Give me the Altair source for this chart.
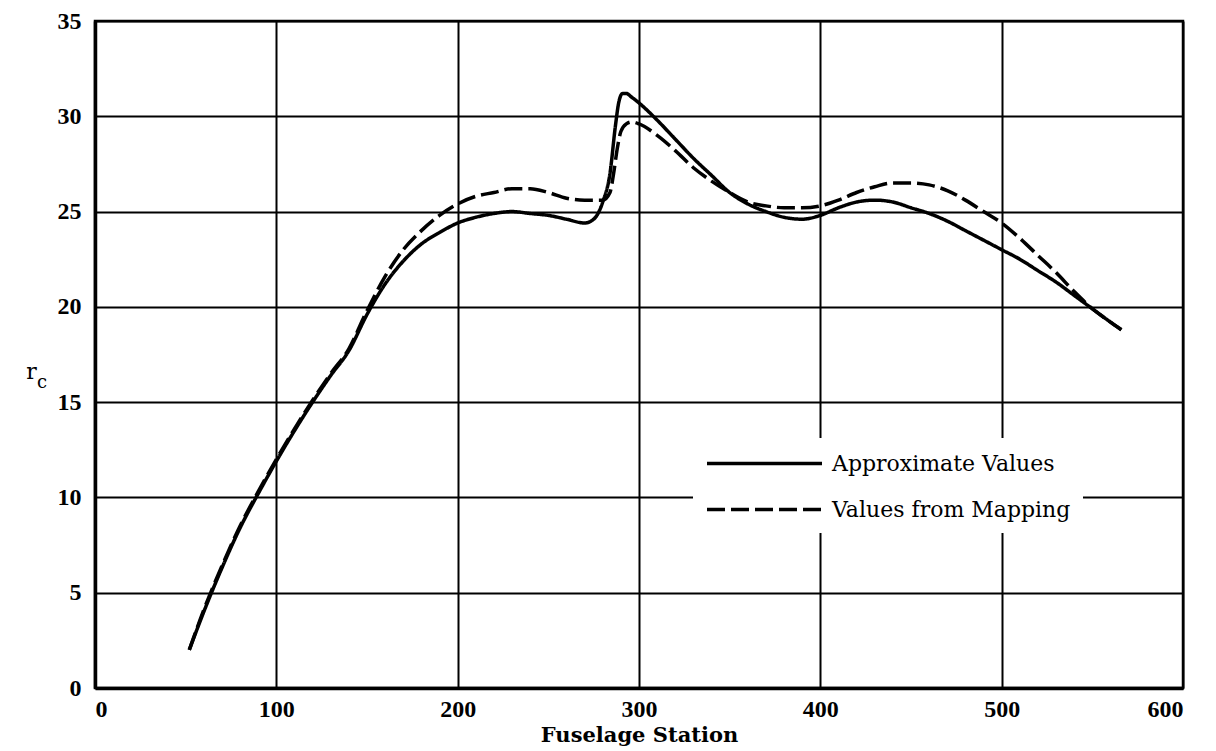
import altair as alt
import pandas as pd

# Approximate Values (solid)
approx_x = [52, 60, 70, 80, 90, 100, 110, 120, 130, 140, 150, 160, 170, 180, 190, 200, 210, 220, 230, 240,
            250, 260, 270, 275, 280, 284, 287, 289, 291, 293, 296, 300, 310, 320, 330, 340, 350, 360, 370,
            380, 390, 400, 410, 420, 430, 440, 450, 460, 470, 480, 490, 500, 510, 520, 530, 540, 550, 560, 566]
approx_y = [2.0, 4.0, 6.3, 8.4, 10.2, 11.9, 13.5, 15.0, 16.4, 17.7, 19.6, 21.2, 22.4, 23.3, 23.9, 24.4, 24.7,
            24.9, 25.0, 24.9, 24.8, 24.6, 24.4, 24.6, 25.5, 27.0, 29.5, 30.8, 31.2, 31.2, 31.0, 30.7, 29.8,
            28.8, 27.8, 26.9, 26.0, 25.4, 25.0, 24.7, 24.6, 24.8, 25.2, 25.5, 25.6, 25.5, 25.2, 24.9, 24.5,
            24.0, 23.5, 23.0, 22.5, 21.9, 21.3, 20.6, 19.9, 19.2, 18.8]

# Values from Mapping (dashed)
map_x = [52, 60, 70, 80, 90, 100, 110, 120, 130, 140, 150, 160, 170, 180, 190, 200, 210, 220, 230, 240, 250,
         260, 270, 280, 284, 286, 288, 290, 293, 296, 300, 310, 320, 330, 340, 350, 360, 370, 380, 390, 400,
         410, 420, 430, 440, 450, 460, 470, 480, 490, 500, 510, 520, 530, 540, 550, 560, 566]
map_y = [2.0, 4.1, 6.4, 8.5, 10.3, 12.0, 13.6, 15.1, 16.5, 17.8, 19.8, 21.6, 23.0, 24.0, 24.8, 25.4, 25.8,
         26.0, 26.2, 26.2, 26.0, 25.7, 25.6, 25.6, 26.0, 27.0, 28.3, 29.2, 29.6, 29.7, 29.6, 29.0, 28.2,
         27.3, 26.6, 26.0, 25.5, 25.3, 25.2, 25.2, 25.3, 25.6, 26.0, 26.3, 26.5, 26.5, 26.4, 26.1, 25.6,
         25.0, 24.4, 23.6, 22.7, 21.8, 20.8, 19.9, 19.2, 18.8]

series_names = ["Approximate Values", "Values from Mapping"]
x_ticks = [0, 100, 200, 300, 400, 500, 600]
y_ticks = [0, 5, 10, 15, 20, 25, 30, 35]

df = pd.concat([
    pd.DataFrame({"x": approx_x, "y": approx_y, "series": series_names[0]}),
    pd.DataFrame({"x": map_x, "y": map_y, "series": series_names[1]}),
])

lines = alt.Chart(df).mark_line(interpolate="monotone", strokeWidth=3.5, color="black").encode(
    x=alt.X("x:Q", scale=alt.Scale(domain=[0, 600], nice=False),
            axis=alt.Axis(values=x_ticks, title="Fuselage Station", format="d")),
    y=alt.Y("y:Q", scale=alt.Scale(domain=[0, 35], nice=False),
            axis=alt.Axis(values=y_ticks, title="r", titleAngle=0, titleX=-64, titleY=350,
                          titleFont="DejaVu Serif", titleFontSize=22, titleFontWeight="normal",
                          titleAlign="center", titleBaseline="middle")),
    strokeDash=alt.StrokeDash("series:N",
                              scale=alt.Scale(domain=series_names, range=[[1, 0], [18, 6]]),
                              legend=alt.Legend(orient="none", legendX=598, legendY=417, title=None,
                                                symbolType="M-1,0H9", symbolSize=529,
                                                symbolStrokeWidth=3.5, symbolStrokeColor="black",
                                                labelFont="DejaVu Serif", labelFontSize=22,
                                                labelColor="black", labelOffset=100, labelLimit=0,
                                                rowPadding=21, fillColor="white", padding=12)),
    detail="series:N",
)

sub = alt.Chart(pd.DataFrame({"t": ["c"]})).mark_text(
    font="DejaVu Serif", fontSize=18, color="black", align="left", baseline="middle"
).encode(text="t:N", x=alt.value(-58), y=alt.value(362))

chart = alt.layer(lines, sub).properties(
    width=1088, height=667,
    autosize=alt.AutoSizeParams(type="none"),
    padding={"left": 87, "top": 13, "right": 25, "bottom": 58},
).configure_view(stroke="black", strokeWidth=2.5).configure_axis(
    grid=True, gridColor="black", gridWidth=2, gridOpacity=1,
    domainColor="black", domainWidth=3.5, ticks=False,
    labelFont="Liberation Serif", labelFontWeight="bold", labelFontSize=24, labelColor="black",
    titleFont="DejaVu Serif", titleFontWeight="bold", titleFontSize=21, titleColor="black",
).configure_axisX(labelPadding=9, titlePadding=3).configure_axisY(labelPadding=14)

chart.save("out.html", embed_options={"renderer": "svg", "actions": False})
